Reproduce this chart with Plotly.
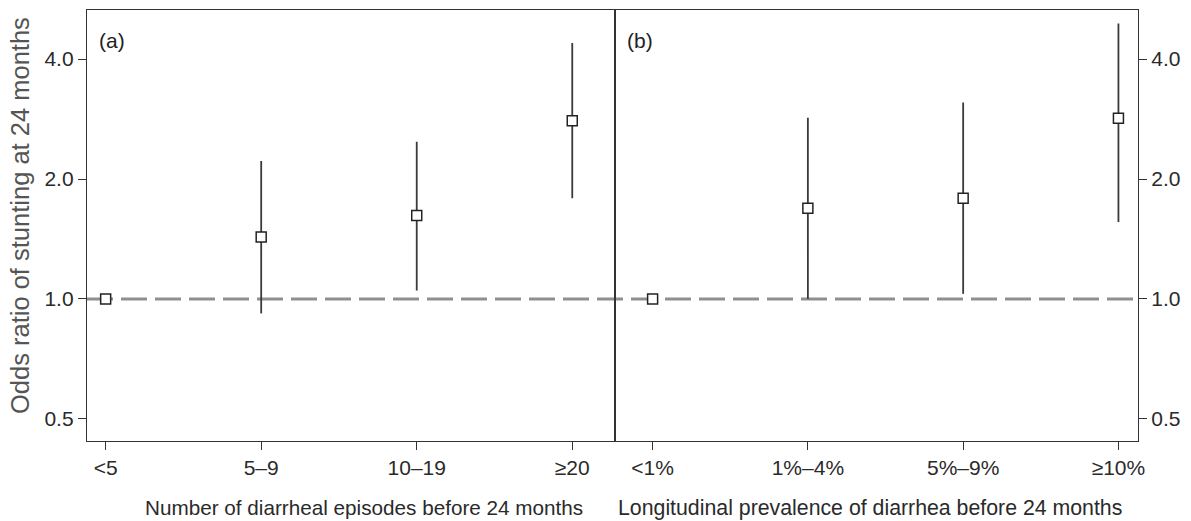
import plotly.graph_objects as go
from plotly.subplots import make_subplots

# ---- data ----
cats_a = ["<5", "5–9", "10–19", "≥20"]
or_a = [1.0, 1.43, 1.62, 2.80]
lo_a = [1.0, 0.92, 1.05, 1.79]
hi_a = [1.0, 2.22, 2.48, 4.39]

cats_b = ["<1%", "1%–4%", "5%–9%", "≥10%"]
or_b = [1.0, 1.69, 1.79, 2.84]
lo_b = [1.0, 1.00, 1.03, 1.56]
hi_b = [1.0, 2.85, 3.11, 4.91]

ytick_vals = [0.5, 1.0, 2.0, 4.0]
ytick_text = ["0.5", "1.0", "2.0", "4.0"]

xtitle_a = "Number of diarrheal episodes before 24 months"
xtitle_b = "Longitudinal prevalence of diarrhea before 24 months"
ytitle = "Odds ratio of stunting at 24 months"

FONT = "Liberation Sans, Arial, Helvetica, sans-serif"
INK = "#333333"

fig = make_subplots(rows=1, cols=2, horizontal_spacing=0)

def add_panel(cats, ors, los, his, col):
    xs = list(range(len(cats)))
    fig.add_trace(go.Scatter(
        x=xs, y=ors, mode="markers",
        marker=dict(symbol="square", size=10, color="white",
                    line=dict(color="#222222", width=1.5)),
        error_y=dict(type="data", symmetric=False,
                     array=[h - o for h, o in zip(his, ors)],
                     arrayminus=[o - l for o, l in zip(ors, los)],
                     width=0, thickness=1.8, color="#3a3a3a"),
        showlegend=False, hoverinfo="skip"), row=1, col=col)

add_panel(cats_a, or_a, lo_a, hi_a, 1)
add_panel(cats_b, or_b, lo_b, hi_b, 2)

yrange = [-0.3564, 0.7252]
split = 0.5027

axis_common = dict(showgrid=False, zeroline=False, showline=True, linecolor=INK,
                   linewidth=1.3, mirror=True, ticks="outside", ticklen=8,
                   tickcolor=INK, tickwidth=1.2,
                   tickfont=dict(family=FONT, size=21, color="#2a2a2a"))

fig.update_xaxes(**axis_common)
fig.update_yaxes(**axis_common)

fig.update_layout(
    xaxis=dict(domain=[0, split], range=[-0.120, 3.277],
               tickvals=list(range(len(cats_a))), ticktext=cats_a),
    xaxis2=dict(domain=[split, 1], range=[-0.240, 3.126],
                tickvals=list(range(len(cats_b))), ticktext=cats_b),
    yaxis=dict(type="log", range=yrange, tickvals=ytick_vals, ticktext=ytick_text),
    yaxis2=dict(type="log", range=yrange, tickvals=ytick_vals, ticktext=ytick_text,
                side="right", anchor="x2"),
)

# reference line at OR = 1 across both panels
fig.add_shape(type="line", xref="paper", yref="y", x0=0, x1=1, y0=1, y1=1,
              line=dict(color="#8f8f8f", width=2.8, dash="26px,8px"), layer="below")

annots = [
    dict(text="(a)", x=0.0095, y=0.93, xanchor="left", yanchor="middle",
         font=dict(family=FONT, size=21, color="#222")),
    dict(text="(b)", x=split + 0.0095, y=0.93, xanchor="left", yanchor="middle",
         font=dict(family=FONT, size=21, color="#222")),
    dict(text=xtitle_a, x=split / 2 + 0.012, y=-0.155, xanchor="center", yanchor="middle",
         font=dict(family=FONT, size=20.7, color="#2a2a2a")),
    dict(text=xtitle_b, x=(split + 1) / 2 - 0.006, y=-0.155, xanchor="center", yanchor="middle",
         font=dict(family=FONT, size=21.3, color="#2a2a2a")),
    dict(text=ytitle, x=-0.0637, y=0.522, xanchor="center", yanchor="middle",
         textangle=-90, font=dict(family=FONT, size=25.5, color="#555555")),
]
for a in annots:
    fig.add_annotation(xref="paper", yref="paper", showarrow=False, **a)

fig.update_layout(
    width=1191, height=521,
    margin=dict(l=87, r=53, t=10, b=80),
    paper_bgcolor="white", plot_bgcolor="white",
)

fig.write_html("out.html",
               config={"displayModeBar": False},
               post_script="document.body.style.margin='0px';"
                           "document.body.style.overflow='hidden';")
